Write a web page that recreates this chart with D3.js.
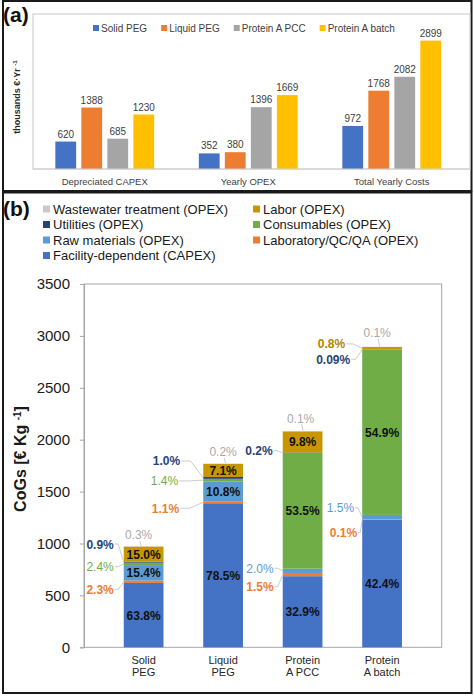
<!DOCTYPE html>
<html><head><meta charset="utf-8">
<script src="https://cdn.jsdelivr.net/npm/d3@7"></script>
<style>body{margin:0;background:#fff}svg{display:block;font-family:"Liberation Sans",Arial,sans-serif}</style>
</head><body><svg id="c" width="474" height="697"></svg>
<script>
// ---------- Panel (a) data ----------
const costCategories = ["Depreciated CAPEX", "Yearly OPEX", "Total Yearly Costs"];
const processes = ["Solid PEG", "Liquid PEG", "Protein A PCC", "Protein A batch"];
const solidPEG = [620, 352, 972];
const liquidPEG = [1388, 380, 1768];
const proteinAPCC = [685, 1396, 2082];
const proteinABatch = [1230, 1669, 2899];
const yTicksA = [0, 3500];

// ---------- Panel (b) data ----------
const barLabels = [["Solid", "PEG"], ["Liquid", "PEG"], ["Protein", "A PCC"], ["Protein", "A batch"]];
const cogsTotals = [972, 1768, 2082, 2899];          // € per kg
// percentage shares, bottom to top of stack
const facilityPct   = [63.8, 78.5, 32.9, 42.4];
const labPct        = [2.3, 1.1, 1.5, 0.1];
const rawPct        = [15.4, 10.8, 2.0, 1.5];
const consumablesPct= [2.4, 1.4, 53.5, 54.9];
const utilitiesPct  = [0.9, 1.0, 0.2, 0.09];
const laborPct      = [15.0, 7.1, 9.8, 0.8];
const wastewaterPct = [0.3, 0.2, 0.1, 0.1];
const yTicksB = [0, 500, 1000, 1500, 2000, 2500, 3000, 3500];

const svg = d3.select("#c");

// ======== Panel frames ========
svg.append("rect").attr("x",3).attr("y",1).attr("width",468.5).attr("height",190)
  .attr("fill","none").attr("stroke","#1a1a1a").attr("stroke-width",2);
svg.append("rect").attr("x",3).attr("y",192.5).attr("width",468.5).attr("height",500.5)
  .attr("fill","none").attr("stroke","#1a1a1a").attr("stroke-width",2);

// ======== Panel (a) ========
const aColors = ["#4472C4","#ED7D31","#A5A5A5","#FFC000"];
const seriesA = [solidPEG, liquidPEG, proteinAPCC, proteinABatch];
const gA = svg.append("g");
gA.append("rect").attr("x",33).attr("y",14).attr("width",437).attr("height",155)
  .attr("fill","none").attr("stroke","#c8c8c8").attr("stroke-width",1);
const yA = d3.scaleLinear().domain(d3.extent(yTicksA)).range([169,14]);
const x0 = d3.scaleBand().domain(costCategories).range([33,463.5]).paddingInner(0.275).paddingOuter(0.1375);
const x1 = d3.scaleBand().domain(processes).range([0,x0.bandwidth()]).paddingInner(0.2).paddingOuter(0.1);

costCategories.forEach((cat,ci)=>{
  processes.forEach((p,pi)=>{
    const v = seriesA[pi][ci];
    const x = x0(cat)+x1(p);
    gA.append("rect").attr("x",x).attr("y",yA(v)).attr("width",x1.bandwidth()).attr("height",yA(0)-yA(v))
      .attr("fill",aColors[pi]);
    gA.append("text").attr("x",x+x1.bandwidth()/2).attr("y",yA(v)-4).attr("text-anchor","middle")
      .attr("font-size",10).attr("fill","#404040").text(v);
  });
});
gA.append("line").attr("x1",33).attr("x2",470).attr("y1",yA(0)).attr("y2",yA(0)).attr("stroke","#d0d0d0");
const axA = gA.append("g").attr("transform",`translate(0,${yA(0)})`)
  .call(d3.axisBottom(x0).tickSize(0).tickPadding(9));
axA.select(".domain").remove();
axA.selectAll("text").attr("font-size",9.5).attr("fill","#404040").attr("font-family","Liberation Sans, Arial, sans-serif");

gA.append("text").attr("transform","translate(20,97) rotate(-90)").attr("text-anchor","middle")
  .attr("font-size",9).attr("font-weight","bold").attr("fill","#262626")
  .html('thousands €·Yr <tspan baseline-shift="super" font-size="6">-1</tspan>');

// legend (a)
let lx = 93;
processes.forEach((p,i)=>{
  gA.append("rect").attr("x",lx).attr("y",25).attr("width",6).attr("height",6).attr("fill",aColors[i]);
  const t = gA.append("text").attr("x",lx+8).attr("y",31.5).attr("font-size",10).attr("fill","#404040").text(p);
  lx += 8 + t.node().getComputedTextLength() + 14;
});
svg.append("text").attr("x",3).attr("y",22).attr("font-size",21).attr("font-weight","bold").attr("fill","#111").text("(a)");

// ======== Panel (b) ========
svg.append("text").attr("x",3).attr("y",216).attr("font-size",21).attr("font-weight","bold").attr("fill","#111").text("(b)");

const stackKeys = ["facility","lab","raw","consumables","utilities","labor","wastewater"];
const keyNames = {
  facility:"Facility-dependent (CAPEX)", lab:"Laboratory/QC/QA (OPEX)", raw:"Raw materials (OPEX)",
  consumables:"Consumables (OPEX)", utilities:"Utilities (OPEX)", labor:"Labor (OPEX)", wastewater:"Wastewater treatment (OPEX)"
};
const fillB = {facility:"#4472C4", lab:"#ED7D31", raw:"#5B9BD5", consumables:"#70AD47", utilities:"#264478", labor:"#C69700", wastewater:"#C9C9C9"};
const textB = {facility:"#4472C4", lab:"#ED7D31", raw:"#5B9BD5", consumables:"#70AD47", utilities:"#264478", labor:"#B08600", wastewater:"#A9A9A9"};
const pctArrays = {facility:facilityPct, lab:labPct, raw:rawPct, consumables:consumablesPct, utilities:utilitiesPct, labor:laborPct, wastewater:wastewaterPct};

const rows = barLabels.map((l,i)=>{
  const r = {name:l.join(" "), i};
  stackKeys.forEach(k=>{ r[k] = cogsTotals[i]*pctArrays[k][i]/100; });
  return r;
});
const stacked = d3.stack().keys(stackKeys)(rows);

const yB = d3.scaleLinear().domain(d3.extent(yTicksB)).range([647.3,284]);
const xB = d3.scaleBand().domain(rows.map(r=>r.name)).range([84,441.7]).paddingInner(0.5).paddingOuter(0.5);

const gB = svg.append("g");
gB.append("rect").attr("x",84).attr("y",284).attr("width",357.7).attr("height",yB(0)-284)
  .attr("fill","none").attr("stroke","#a6a6a6").attr("stroke-width",1);
const axB = gB.append("g").attr("transform","translate(84,0)")
  .call(d3.axisLeft(yB).tickValues(yTicksB).tickSize(4).tickPadding(10).tickFormat(d3.format("d")));
axB.select(".domain").attr("stroke","#a6a6a6");
axB.selectAll(".tick line").attr("stroke","#a6a6a6");
axB.selectAll("text").attr("font-size",15).attr("fill","#1a1a1a").attr("font-family","Liberation Sans, Arial, sans-serif");

stacked.forEach(layer=>{
  gB.selectAll(null).data(layer).enter().append("rect")
    .attr("x",d=>xB(d.data.name)).attr("width",xB.bandwidth())
    .attr("y",d=>yB(d[1])).attr("height",d=>yB(d[0])-yB(d[1]))
    .attr("fill",fillB[layer.key]);
});

// inside labels for large shares
const fmtPct = v => (v<0.1? v.toFixed(2) : v.toFixed(1)) + "%";
stacked.forEach(layer=>{
  layer.forEach((d,i)=>{
    const p = pctArrays[layer.key][i];
    if (p >= 5) {
      gB.append("text").attr("x",xB(d.data.name)+xB.bandwidth()/2).attr("y",yB((d[0]+d[1])/2)+4.5)
        .attr("text-anchor","middle").attr("font-size",12).attr("font-weight","bold").attr("fill","#111")
        .text(fmtPct(p));
    }
  });
});

// callout layout for small shares: [bar index, key, label anchor (data units), horizontal offset px]
const callouts = [
  [0,"utilities",995,-10],[0,"consumables",777,-10],[0,"lab",559,-10],[0,"wastewater",1082,-5],
  [1,"utilities",1795,-23],[1,"consumables",1603,-25],[1,"lab",1340,-24],[1,"wastewater",1885,0],
  [2,"wastewater",2207,-2],[2,"utilities",1895,-10],[2,"raw",761,-9],[2,"lab",584,-9],
  [3,"wastewater",3032,-5],[3,"labor",2923,-17],[3,"utilities",2775,-12],[3,"raw",1345,-8],[3,"lab",1104,-5]
];
const layerByKey = {}; stacked.forEach(l=>layerByKey[l.key]=l);
callouts.forEach(([i,key,yv,dx])=>{
  const seg = layerByKey[key][i];
  const name = seg.data.name;
  const left = xB(name);
  const segMid = yB((seg[0]+seg[1])/2);
  const ly = yB(yv);
  const p = pctArrays[key][i];
  const bold = !(key==="wastewater" || key==="consumables" || key==="raw");
  if (key==="wastewater") {
    const cx = left + xB.bandwidth()/2 + dx;
    gB.append("line").attr("x1",cx+1).attr("y1",ly+6).attr("x2",cx+2.5).attr("y2",yB(seg[1])-0.5)
      .attr("stroke","#bfbfbf").attr("stroke-width",0.8);
    gB.append("text").attr("x",cx).attr("y",ly+4.5).attr("text-anchor","middle")
      .attr("font-size",12).attr("fill",textB[key]).text(fmtPct(p));
  } else {
    const tx = left + dx;
    gB.append("polyline").attr("points",`${tx+1},${ly} ${tx+Math.max(3,(-dx)*0.45)},${ly} ${left},${segMid}`)
      .attr("fill","none").attr("stroke","#bfbfbf").attr("stroke-width",0.8);
    gB.append("text").attr("x",tx).attr("y",ly+4.5).attr("text-anchor","end")
      .attr("font-size",12).attr("font-weight",bold?"bold":"normal").attr("fill",textB[key]).text(fmtPct(p));
  }
});

// x labels
barLabels.forEach((lines,i)=>{
  const t = gB.append("text").attr("x",xB(rows[i].name)+xB.bandwidth()/2).attr("y",664)
    .attr("text-anchor","middle").attr("font-size",11).attr("fill","#262626");
  lines.forEach((s,k)=>t.append("tspan").attr("x",xB(rows[i].name)+xB.bandwidth()/2).attr("dy",k?12:0).text(s));
});

gB.append("text").attr("transform","translate(26,459) rotate(-90)").attr("text-anchor","middle")
  .attr("font-size",16).attr("font-weight","bold").attr("fill","#1a1a1a")
  .html('CoGs [€ Kg <tspan baseline-shift="super" font-size="10">-1</tspan>]');

// legend (b)
const legendB = [["wastewater","labor"],["utilities","consumables"],["raw","lab"],["facility",null]];
legendB.forEach((row,r)=>{
  row.forEach((k,c)=>{
    if(!k) return;
    const x = c ? 255 : 45, y = 209 + r*15.5;
    gB.append("rect").attr("x",x-2).attr("y",y-3.5).attr("width",7).attr("height",7).attr("fill",fillB[k]);
    gB.append("text").attr("x",x+8).attr("y",y+4.5).attr("font-size",13).attr("fill","#1a1a1a").text(keyNames[k]);
  });
});
</script></body></html>
